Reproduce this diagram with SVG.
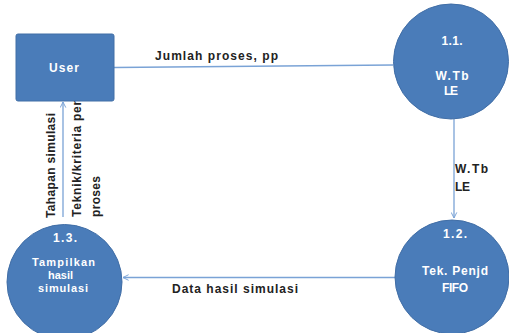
<svg xmlns="http://www.w3.org/2000/svg" width="509" height="333" viewBox="0 0 509 333">
  <defs>
    <marker id="arrow" viewBox="0 0 10 10" refX="9" refY="5" markerWidth="7" markerHeight="7" orient="auto" markerUnits="userSpaceOnUse">
      <path d="M1,1 L9,5 L1,9" fill="none" stroke="#7aa3d6" stroke-width="1.4"/>
    </marker>
  </defs>
  <style>
    .node { fill: #4a7cb9; stroke: #416ea6; stroke-width: 1; }
    .ntext { font-family: "Liberation Sans", Arial, sans-serif; font-size: 12px; font-weight: bold; fill: #ffffff; text-anchor: middle; }
    .small { font-size: 11px; }
    .flow { fill: none; stroke: #7aa3d6; stroke-width: 1.3; }
    .label { font-family: "Liberation Sans", Arial, sans-serif; font-size: 12px; font-weight: bold; fill: #222222; }
  </style>
  <rect width="509" height="333" fill="#ffffff"/>

  <g id="connectors">
    <path class="flow" d="M114,67.5 L393,65"/>
    <path class="flow" d="M454,119 L454,218" marker-end="url(#arrow)"/>
    <path class="flow" d="M396,277.5 L123,277.5" marker-end="url(#arrow)"/>
    <path class="flow" d="M63,217 L63,102" marker-end="url(#arrow)"/>
    <text class="label" x="155" y="60" textLength="123" lengthAdjust="spacing">Jumlah proses, pp</text>
    <text class="label" x="455" y="173" textLength="33" lengthAdjust="spacing">W.Tb</text>
    <text class="label" x="455" y="191" textLength="15" lengthAdjust="spacing">LE</text>
    <text class="label" x="172" y="293" textLength="126" lengthAdjust="spacing">Data hasil simulasi</text>
    <text class="label" transform="translate(55,218) rotate(-90)" textLength="105" lengthAdjust="spacing">Tahapan simulasi</text>
    <text class="label" transform="translate(81,217) rotate(-90)" textLength="123" lengthAdjust="spacing">Teknik/kriteria penj</text>
    <text class="label" transform="translate(100,217) rotate(-90)" textLength="41" lengthAdjust="spacing">proses</text>
  </g>

  <g id="user">
    <rect class="node" x="16" y="34" width="98" height="67" rx="2"/>
    <text class="ntext" x="64" y="72" textLength="30" lengthAdjust="spacing">User</text>
  </g>

  <g id="p11">
    <circle class="node" cx="451" cy="61.5" r="57.5"/>
    <text class="ntext" x="452" y="45" textLength="21" lengthAdjust="spacing">1.1.</text>
    <text class="ntext" x="452" y="80" textLength="33" lengthAdjust="spacing">W.Tb</text>
    <text class="ntext" x="451" y="95" textLength="14" lengthAdjust="spacing">LE</text>
  </g>

  <g id="p12">
    <circle class="node" cx="452" cy="277" r="57"/>
    <text class="ntext" x="455" y="238" textLength="24" lengthAdjust="spacing">1.2.</text>
    <text class="ntext" x="455" y="275" textLength="66" lengthAdjust="spacing">Tek. Penjd</text>
    <text class="ntext" x="455" y="292" textLength="26" lengthAdjust="spacing">FIFO</text>
  </g>

  <g id="p13">
    <circle class="node" cx="64.5" cy="282" r="57.5"/>
    <text class="ntext" x="65" y="242" textLength="24" lengthAdjust="spacing">1.3.</text>
    <text class="ntext small" x="63.5" y="266" textLength="63" lengthAdjust="spacing">Tampilkan</text>
    <text class="ntext small" x="60.5" y="279" textLength="25" lengthAdjust="spacing">hasil</text>
    <text class="ntext small" x="63" y="292" textLength="50" lengthAdjust="spacing">simulasi</text>
  </g>
</svg>
